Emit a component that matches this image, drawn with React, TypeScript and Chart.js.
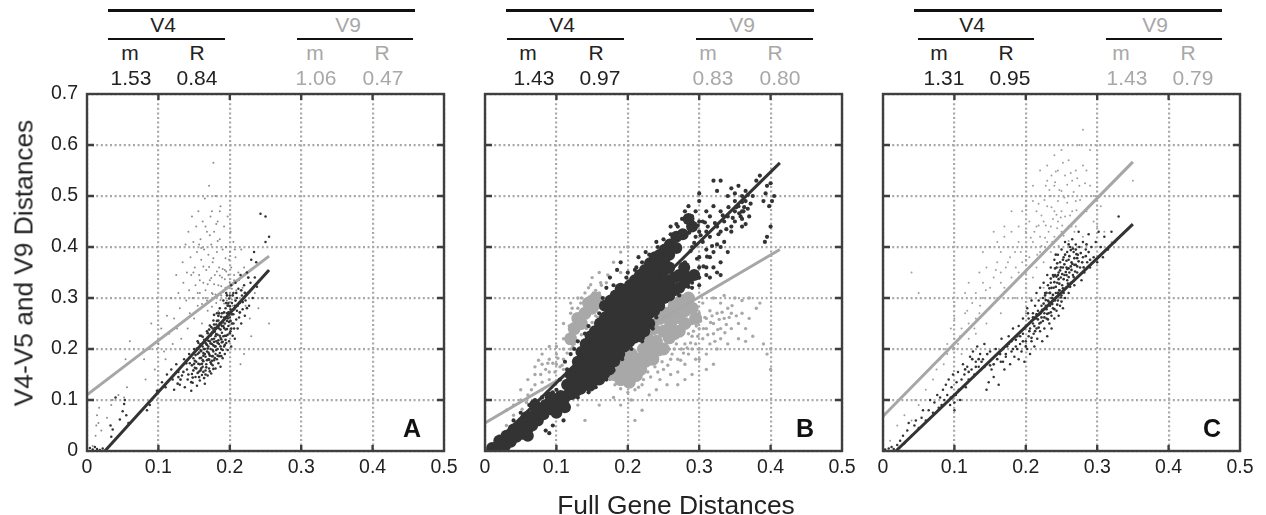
import React, { useEffect, useRef } from "react";
import { Chart, registerables } from "chart.js";

Chart.register(...registerables);

type P = [number, number];

const xTicks = [0, 0.1, 0.2, 0.3, 0.4, 0.5];
const yTicks = [0, 0.1, 0.2, 0.3, 0.4, 0.5, 0.6, 0.7];

const aStatsV4 = ["1.53", "0.84"];
const aStatsV9 = ["1.06", "0.47"];
const bStatsV4 = ["1.43", "0.97"];
const bStatsV9 = ["0.83", "0.80"];
const cStatsV4 = ["1.31", "0.95"];
const cStatsV9 = ["1.43", "0.79"];

const aLineV4: P[] = [[0.025, 0], [0.255, 0.355]];
const aLineV9: P[] = [[0, 0.11], [0.255, 0.382]];
const bLineV4: P[] = [[0, -0.004], [0.413, 0.565]];
const bLineV9: P[] = [[0, 0.055], [0.413, 0.395]];
const cLineV4: P[] = [[0.018, 0], [0.35, 0.445]];
const cLineV9: P[] = [[0, 0.068], [0.35, 0.567]];

const aV4: P[] = [
[.004,.006],[.008,.003],[.011,.008],[.014,.004],[.018,.002],[.022,.005],[.034,.028],[.033,.05],[.036,.042],[.046,.062],[.05,.078],[.052,.092],[.055,.07],[.053,.1],[.04,.105],[.058,.055],[.088,.09],[.09,.1],[.098,.118],[.084,.08],
[.105,.135],[.11,.125],[.112,.15],[.118,.16],[.12,.14],[.122,.12],[.125,.17],[.128,.155],[.13,.13],[.133,.148],[.136,.18],[.137,.125],[.14,.16],[.141,.14],[.143,.19],[.144,.172],[.146,.118],[.147,.151],[.148,.134],[.149,.182],[.15,.2],[.151,.163],[.152,.145],[.153,.175],[.154,.128],[.155,.19],[.156,.212],[.157,.156],[.158,.17],[.158,.138],[.159,.198],[.16,.183],[.16,.226],[.161,.149],[.162,.205],[.162,.165],[.163,.192],[.163,.176],[.164,.218],[.165,.132],[.165,.2],[.166,.158],[.166,.185],[.167,.21],[.167,.17],[.168,.235],[.168,.195],[.169,.148],[.169,.222],[.17,.18],[.17,.205],[.171,.162],[.171,.19],[.172,.246],[.172,.215],[.173,.174],[.173,.2],[.174,.228],[.174,.152],[.175,.186],[.175,.21],[.176,.24],[.176,.168],[.177,.195],[.177,.256],[.178,.22],[.178,.178],[.179,.205],[.179,.234],[.18,.162],[.18,.19],[.181,.248],[.181,.215],[.182,.27],[.182,.18],[.183,.2],[.183,.228],[.184,.256],[.184,.172],[.185,.21],[.185,.24],[.186,.192],[.186,.28],[.187,.222],[.187,.165],[.188,.25],[.188,.2],[.189,.232],[.189,.27],[.19,.182],[.19,.214],[.191,.295],[.191,.245],[.192,.205],[.192,.262],[.193,.226],[.193,.19],[.194,.28],[.194,.238],[.195,.31],[.195,.212],[.196,.255],[.196,.27],[.197,.198],[.197,.228],[.198,.29],[.198,.245],[.199,.215],[.2,.262],[.2,.305],[.201,.235],[.201,.278],[.202,.205],[.202,.325],[.203,.25],[.203,.29],[.204,.226],[.205,.268],[.205,.31],[.206,.24],[.207,.285],[.207,.22],[.208,.33],[.209,.258],[.21,.3],[.21,.275],[.211,.24],[.212,.318],[.213,.262],[.214,.29],[.215,.345],[.216,.25],[.217,.305],[.218,.278],[.22,.325],[.221,.265],[.222,.295],[.224,.35],[.225,.31],[.227,.285],[.229,.33],[.23,.375],[.232,.3],[.234,.39],[.235,.34],[.238,.322],[.243,.465],[.25,.46],[.255,.42],[.25,.41],[.237,.37]
];

const aV4Dense: P[] = [
[.161,.171],[.178,.214],[.155,.153],[.187,.238],[.169,.201],[.192,.241],[.147,.168],[.183,.187],[.164,.143],[.199,.253],[.172,.187],[.158,.182],[.181,.229],[.166,.212],[.195,.226],[.176,.198],[.151,.177],[.189,.213],[.173,.226],[.186,.251],[.159,.209],[.2,.231],[.168,.178],[.182,.242],[.156,.171],[.194,.261],[.177,.207],[.163,.187],[.188,.186],[.171,.238],[.149,.158],[.184,.217],[.167,.164],[.198,.272],[.175,.219],[.16,.162],[.191,.225],[.179,.182],[.154,.201],[.201,.255],[.17,.216],[.185,.27],[.157,.145],[.193,.208],[.174,.171],[.162,.224],[.18,.205],[.196,.239],[.165,.19],[.178,.248],[.152,.188],[.188,.263],[.172,.156],[.203,.268],[.183,.212],[.168,.208],[.19,.253],[.159,.158],[.176,.232],[.197,.285],[.164,.2],[.186,.226],[.153,.162],[.181,.198],[.206,.278],[.17,.193],[.194,.218],[.177,.161],[.162,.178],[.189,.245],[.148,.144],[.173,.211],[.184,.265],[.157,.193],[.199,.299],[.179,.241],[.166,.15],[.192,.272],[.205,.25],[.175,.177],[.16,.196],[.187,.205],[.182,.255],[.15,.171],[.195,.29],[.169,.231],[.208,.295],[.174,.243],[.155,.215],[.19,.198],[.202,.24],[.178,.267],[.163,.155],[.197,.26],[.211,.285],[.185,.186],[.171,.179],[.204,.305],[.158,.226],[.193,.25],[.18,.225],[.146,.135],[.168,.22],[.2,.284],[.176,.186],[.209,.31],[.188,.219],[.142,.15],[.214,.272],[.183,.242],[.139,.172],[.216,.315],[.196,.305],[.135,.155],[.218,.292],[.131,.14],[.221,.31],[.127,.132],[.224,.28],[.128,.145],[.226,.34]
];

const aV9: P[] = [
[.008,.01],[.012,.03],[.013,.05],[.014,.07],[.016,.055],[.017,.085],[.02,.04],[.028,.065],[.034,.09],[.036,.1],[.044,.11],[.052,.105],[.056,.125],[.06,.215],[.054,.18],[.08,.18],[.082,.14],[.088,.2],[.09,.25],[.095,.16],[.1,.21],[.104,.24],[.108,.195],[.11,.18],[.112,.265],[.115,.23],[.118,.3],[.12,.21],[.122,.26],[.125,.345],[.126,.24],[.128,.31],[.13,.28],[.132,.22],[.134,.37],[.135,.33],[.136,.255],[.138,.405],[.139,.295],[.14,.35],[.141,.24],[.142,.43],[.143,.315],[.144,.27],[.145,.38],[.146,.345],[.147,.46],[.148,.3],[.149,.41],[.15,.26],[.151,.36],[.152,.325],[.153,.44],[.154,.39],[.155,.285],[.156,.47],[.157,.345],[.158,.31],[.159,.415],[.16,.375],[.161,.25],[.162,.45],[.163,.33],[.164,.395],[.165,.495],[.166,.3],[.167,.355],[.168,.43],[.169,.275],[.17,.385],[.171,.52],[.172,.335],[.173,.46],[.174,.405],[.175,.31],[.176,.37],[.177,.565],[.178,.43],[.179,.345],[.18,.5],[.181,.29],[.182,.39],[.183,.45],[.184,.325],[.185,.36],[.186,.415],[.187,.48],[.188,.305],[.189,.34],[.19,.395],[.191,.27],[.192,.44],[.193,.355],[.194,.32],[.195,.4],[.196,.295],[.197,.46],[.198,.345],[.199,.375],[.2,.31],[.201,.43],[.202,.36],[.204,.285],[.205,.41],[.206,.335],[.208,.38],[.21,.3],[.212,.35],[.214,.27],[.216,.395],[.218,.32],[.22,.36],[.222,.285],[.225,.34],[.228,.26],[.23,.225],[.235,.31],[.24,.28],[.245,.3],[.252,.3],[.255,.25],[.22,.19],[.215,.17],
[.176,.308],[.193,.337],[.161,.288],[.187,.296],[.203,.318],[.169,.327],[.182,.352],[.198,.288],[.175,.283],[.191,.312],[.158,.335],[.206,.345],[.184,.274],[.171,.361],[.195,.352],[.166,.315],[.2,.331],[.178,.327],[.188,.323],[.163,.362],[.209,.315],[.174,.339],[.192,.289],[.18,.307],[.155,.31],[.197,.322],[.186,.344],[.168,.295],[.203,.297],[.177,.378],[.213,.335],[.19,.357],[.16,.398],[.183,.412],[.172,.423],[.194,.378],[.149,.35],[.181,.445],[.166,.44],[.2,.39],[.186,.47],[.175,.47],[.157,.405],[.207,.395]
];

const bV4Core: P[] = [
[.01,.006],[.018,.004],[.02,.02],[.028,.01],[.03,.03],[.036,.018],[.04,.042],[.044,.028],[.05,.05],[.052,.034],[.058,.066],[.06,.044],[.066,.05],[.068,.07],[.074,.06],[.076,.08],[.082,.072],[.07,.09],[.085,.09],[.092,.082],[.06,.03],
[.1,.075],[.098,.092],[.104,.09],[.106,.108],[.112,.086],[.11,.1],[.116,.11],[.092,.105],[.115,.13],[.122,.112],[.121,.13],[.12,.15],[.128,.118],[.127,.136],[.127,.155],[.13,.175],
[.134,.122],[.134,.14],[.134,.158],[.135,.194],[.14,.13],[.14,.148],[.14,.166],[.141,.184],[.141,.21],[.147,.128],[.147,.146],[.147,.164],[.147,.182],[.147,.2],[.148,.225],[.153,.138],[.153,.156],[.153,.174],[.153,.192],[.154,.21],[.154,.235],
[.16,.14],[.16,.158],[.16,.176],[.16,.194],[.16,.212],[.161,.23],[.161,.25],[.167,.152],[.167,.17],[.167,.188],[.167,.206],[.167,.224],[.167,.242],[.168,.262],[.168,.285],
[.174,.16],[.174,.178],[.174,.196],[.174,.214],[.174,.232],[.174,.25],[.175,.27],[.176,.295],[.181,.176],[.181,.194],[.181,.212],[.181,.23],[.181,.248],[.181,.266],[.182,.286],[.183,.305],
[.188,.19],[.188,.208],[.188,.226],[.188,.244],[.188,.262],[.188,.28],[.188,.3],[.19,.318],[.195,.205],[.195,.223],[.195,.241],[.195,.259],[.195,.277],[.195,.295],[.196,.315],
[.202,.214],[.202,.232],[.202,.25],[.202,.268],[.202,.286],[.202,.304],[.203,.325],[.209,.222],[.209,.24],[.209,.258],[.209,.276],[.209,.294],[.209,.312],[.21,.335],
[.216,.225],[.216,.245],[.216,.263],[.216,.281],[.216,.299],[.216,.317],[.217,.345],[.223,.235],[.223,.255],[.223,.273],[.223,.291],[.223,.309],[.223,.327],[.224,.355],
[.23,.25],[.23,.27],[.23,.288],[.23,.306],[.23,.324],[.23,.342],[.231,.368],[.237,.275],[.237,.295],[.237,.313],[.237,.331],[.237,.349],[.238,.38],[.237,.365],
[.244,.285],[.244,.305],[.244,.323],[.244,.341],[.244,.359],[.245,.385],[.251,.3],[.251,.32],[.251,.338],[.251,.356],[.251,.374],[.252,.395],[.258,.305],[.258,.328],[.258,.36],[.258,.385],[.259,.405],
[.265,.315],[.265,.34],[.268,.398],[.268,.42],[.272,.32],[.272,.345],[.277,.425],[.279,.33],[.279,.36],[.285,.34],[.293,.345],[.29,.44],[.285,.455]
];

const bV4Spread: P[] = [
[.11,.06],[.09,.035],[.085,.04],[.095,.05],[.1,.12],[.115,.16],[.112,.175],[.12,.19],[.13,.215],[.145,.245],[.16,.27],[.165,.3],[.17,.32],[.18,.325],[.175,.34],[.185,.355],[.19,.37],[.2,.35],[.212,.36],[.215,.38],[.22,.37],[.225,.39],
[.24,.41],[.26,.425],[.27,.44],[.28,.47],[.285,.48],[.29,.46],[.295,.47],[.3,.49],[.3,.505],[.305,.45],[.31,.47],[.312,.44],[.315,.46],[.32,.48],[.325,.44],[.33,.43],[.33,.47],[.335,.45],[.34,.5],[.34,.46],[.345,.515],[.345,.43],[.35,.49],[.35,.47],[.355,.52],[.355,.48],[.36,.5],[.36,.455],[.362,.47],[.365,.49],[.365,.51],[.368,.475],[.37,.46],[.372,.485],[.375,.5],[.38,.53],[.385,.54],[.39,.49],[.393,.505],[.395,.52],[.398,.48],[.4,.525],[.405,.5],[.402,.49],[.4,.44],[.392,.41],[.395,.42],[.29,.4],[.3,.38],[.31,.395],[.315,.42],[.32,.36],[.325,.405],[.33,.37],[.335,.41],[.34,.39],[.345,.44],[.3,.36],[.31,.36],[.28,.37],[.295,.42],[.32,.39],[.305,.41],[.315,.38],[.33,.53],[.32,.53],[.325,.51],[.36,.44],[.36,.47],[.31,.345],[.3,.34],[.3,.325],[.29,.32],[.29,.33],[.315,.34],[.325,.35],[.33,.345],[.3,.43],[.3,.45],[.31,.43],[.33,.4],[.35,.45],[.358,.46],[.365,.445],
[.283,.352],[.297,.377],[.288,.392],[.306,.362],[.293,.408],[.302,.423],[.311,.381],[.286,.428],[.298,.442],[.308,.448],[.318,.402],[.327,.425],[.322,.447],[.338,.435],[.347,.457],[.352,.478],[.36,.488],[.356,.466],[.363,.478],[.368,.502],[.35,.505],[.341,.478],[.333,.462],[.276,.455],[.268,.445],[.26,.44],[.25,.415],[.242,.4],[.23,.385],[.21,.355],[.198,.34],[.14,.23],[.125,.2],[.105,.14],[.095,.115],[.08,.105],[.07,.1],[.062,.09],[.05,.075],[.04,.06],[.13,.105],[.145,.115],[.155,.125],[.17,.14],[.18,.158],[.192,.18],[.205,.2],[.22,.215],[.235,.24],[.24,.262],[.262,.3],[.272,.305],[.285,.322]
];

const bV9Core: P[] = [
[.17,.2],[.175,.17],[.18,.15],[.186,.165],[.19,.14],[.195,.175],[.198,.155],[.202,.135],[.205,.19],[.208,.168],[.212,.148],[.215,.18],[.218,.16],[.222,.2],[.225,.176],[.228,.22],[.232,.198],[.236,.24],[.24,.215],[.245,.26],[.25,.235],[.255,.27],[.26,.25],[.265,.285],[.27,.262],[.275,.295],[.28,.275],[.285,.3],[.235,.18],[.25,.2],[.265,.23],[.28,.25],
[.13,.26],[.14,.27],[.15,.28],[.125,.24],[.145,.29],[.16,.29],[.29,.28],[.295,.26],[.272,.235],[.258,.222],[.243,.198],[.21,.15],[.2,.148],[.12,.22],[.135,.25],[.155,.3]
];

const bV9Spread: P[] = [
[.02,.03],[.03,.05],[.03,.08],[.04,.07],[.04,.09],[.05,.1],[.05,.12],[.06,.11],[.06,.14],[.07,.1],[.07,.13],[.07,.15],[.08,.12],[.08,.135],[.08,.17],[.08,.19],[.09,.14],[.09,.155],[.09,.18],[.09,.205],[.1,.17],[.1,.19],[.1,.205],[.11,.16],[.11,.18],[.11,.2],[.11,.22],[.11,.25],[.12,.2],[.12,.225],[.12,.27],[.12,.29],[.125,.21],[.13,.235],[.13,.28],[.13,.3],[.14,.25],[.14,.31],[.145,.32],[.15,.3],[.15,.34],[.155,.265],[.16,.31],[.16,.35],[.17,.33],[.18,.37],[.19,.35],[.19,.39],[.2,.4],[.14,.06],[.13,.09],[.16,.09],[.18,.105],[.19,.09],[.2,.115],[.205,.1],[.21,.12],[.22,.13],[.23,.11],[.24,.12],[.245,.14],[.25,.16],[.255,.13],[.26,.15],[.26,.18],[.265,.2],[.27,.155],[.27,.18],[.275,.2],[.28,.17],[.28,.21],[.285,.19],[.285,.23],[.29,.2],[.29,.225],[.29,.25],[.295,.18],[.295,.21],[.3,.2],[.3,.24],[.3,.27],[.305,.22],[.305,.29],[.31,.19],[.31,.24],[.31,.26],[.315,.21],[.315,.275],[.32,.23],[.32,.25],[.32,.3],[.325,.2],[.325,.27],[.33,.22],[.33,.24],[.33,.29],[.335,.26],[.335,.305],[.34,.21],[.34,.28],[.345,.24],[.345,.27],[.35,.3],[.355,.22],[.355,.25],[.36,.27],[.36,.295],[.365,.215],[.365,.24],[.37,.26],[.37,.3],[.375,.225],[.38,.28],[.385,.29],[.39,.21],[.395,.19],[.4,.2],[.4,.16],[.22,.08],[.21,.06],[.3,.18],[.31,.16],[.32,.17],[.28,.14],[.29,.15],[.27,.13],
[.07,.165],[.075,.178],[.085,.16],[.095,.172],[.102,.182],[.108,.168],[.115,.192],[.123,.205],[.128,.217],[.135,.228],[.142,.24],[.15,.252],[.158,.262],[.118,.245],[.127,.258],[.137,.27],[.146,.302],[.155,.315],[.163,.325],[.172,.345],[.122,.28],[.134,.29],[.143,.278],[.152,.31],[.162,.33],[.135,.3],[.148,.326],[.256,.168],[.262,.19],[.268,.21],[.274,.178],[.278,.192],[.283,.202],[.288,.212],[.292,.235],[.296,.245],[.298,.225],[.302,.255],[.306,.24],[.308,.262],[.312,.228],[.316,.252],[.318,.265],[.322,.215],[.326,.238],[.328,.258],[.332,.272],[.336,.232],[.338,.248],[.342,.262],[.346,.285],[.352,.265],[.248,.175],[.242,.155],[.238,.165],[.232,.145],[.228,.155],[.222,.14],[.215,.125],[.2,.13],[.19,.122],[.182,.13],[.175,.14],[.168,.15],[.052,.082],[.058,.095],[.065,.12],[.078,.15],[.088,.172],[.098,.155],[.105,.165]
];

const cV4: P[] = [
[.003,.003],[.008,.005],[.012,.008],[.015,.004],[.02,.012],[.024,.02],[.028,.03],[.03,.015],[.034,.04],[.036,.055],[.04,.03],[.044,.05],[.046,.06],[.05,.045],[.054,.065],[.056,.08],[.06,.06],[.064,.08],[.066,.1],[.07,.075],[.072,.095],[.076,.11],[.078,.085],[.08,.105],[.082,.09],[.084,.12],[.086,.1],[.088,.13],[.09,.11],[.092,.14],[.094,.09],[.095,.105],[.096,.125],[.098,.15],[.1,.08],[.1,.095],[.102,.11],[.103,.135],[.105,.155],[.106,.12],[.108,.1],[.11,.14],[.112,.17],[.114,.15],[.116,.125],[.118,.165],[.12,.14],[.122,.185],[.124,.16],[.126,.195],[.128,.15],[.13,.175],[.132,.205],[.134,.165],[.136,.19],[.14,.18],[.142,.21],[.145,.12],[.148,.135],[.15,.195],[.152,.16],[.155,.145],[.158,.2],[.16,.19],[.162,.13],[.165,.175],[.166,.22],[.168,.2],[.17,.16],[.172,.185],[.174,.205],[.176,.225],[.178,.17],[.18,.195],[.18,.215],[.182,.24],[.184,.185],[.186,.205],[.188,.225],[.19,.18],[.19,.245],[.192,.21],[.194,.195],[.196,.23],[.196,.26],[.198,.175],[.2,.215],[.2,.245],[.202,.2],[.202,.28],[.204,.225],[.204,.26],[.206,.19],[.206,.24],[.208,.295],[.208,.215],[.21,.27],[.21,.25],[.211,.23],[.212,.205],[.213,.285],[.214,.26],[.215,.31],[.215,.24],[.216,.22],[.217,.275],[.218,.295],[.219,.25],[.22,.32],[.22,.235],[.221,.27],[.222,.285],[.223,.215],[.224,.3],[.224,.255],[.225,.33],[.226,.27],[.226,.24],[.227,.31],[.228,.285],[.229,.26],[.23,.345],[.23,.225],[.231,.295],[.231,.325],[.232,.27],[.233,.25],[.233,.31],[.234,.285],[.235,.36],[.235,.33],[.236,.265],[.236,.24],[.237,.3],[.238,.345],[.238,.28],[.239,.32],[.24,.26],[.24,.375],[.241,.295],[.241,.345],[.242,.31],[.243,.275],[.243,.36],[.244,.33],[.245,.295],[.245,.385],[.246,.35],[.246,.265],[.247,.315],[.248,.37],[.248,.285],[.249,.34],[.25,.305],[.25,.395],[.251,.325],[.252,.36],[.252,.28],[.253,.38],[.254,.345],[.255,.3],[.255,.41],[.256,.32],[.257,.36],[.258,.39],[.258,.335],[.26,.31],[.26,.375],[.261,.35],[.262,.4],[.263,.33],[.264,.37],[.265,.415],[.266,.345],[.267,.39],[.268,.325],[.27,.365],[.27,.405],[.272,.35],[.273,.385],[.274,.43],[.276,.36],[.278,.335],[.28,.38],[.28,.41],[.282,.35],[.284,.395],[.286,.37],[.288,.425],[.29,.36],[.292,.4],[.295,.38],[.298,.41],[.3,.37],[.302,.43],[.305,.4],[.308,.38],[.31,.42],[.315,.395],[.32,.43],[.325,.41],[.33,.46]
];

const cV4Dense: P[] = [
[.232,.293],[.247,.328],[.221,.252],[.256,.351],[.238,.306],[.263,.362],[.229,.278],[.252,.319],[.243,.342],[.268,.378],[.235,.272],[.26,.341],[.226,.262],[.249,.301],[.271,.386],[.24,.331],[.257,.373],[.219,.268],[.244,.287],[.264,.355],[.233,.319],[.251,.347],[.274,.372],[.228,.296],[.246,.337],[.259,.328],[.237,.288],[.266,.397],[.223,.277],[.254,.366],[.242,.322],[.269,.352],[.231,.258],[.248,.354],[.277,.388],[.236,.3],[.261,.382],[.225,.289],[.253,.337],[.245,.31],[.272,.362],[.239,.342],[.258,.357],[.217,.258],[.267,.341],[.234,.31],[.25,.293],[.279,.37],[.243,.302],[.263,.394],[.227,.305],[.255,.385],[.241,.358],[.27,.395],[.23,.269],[.247,.315],[.26,.358],[.218,.242],[.245,.345],[.275,.4],[.236,.32],[.265,.367],[.222,.262],[.253,.31],[.284,.382],[.24,.278],[.257,.345],[.212,.245],[.249,.36],[.268,.365],[.229,.31],[.244,.368],[.262,.322],[.205,.235],[.235,.338],[.281,.36],[.252,.375],[.215,.268],[.26,.405],[.208,.222],[.242,.385],[.288,.39],[.2,.205],[.272,.378],[.196,.215],[.21,.262],[.285,.405],[.192,.225],[.213,.235],[.29,.375],[.188,.2],[.203,.27],[.186,.218],[.198,.24],[.182,.2],[.176,.21],[.172,.19],[.168,.175],[.164,.19],[.16,.18],[.155,.17],[.15,.168],[.146,.19],[.142,.165],[.138,.175],[.134,.18],[.13,.165],[.125,.18],[.12,.155],[.115,.16]
];

const cV9: P[] = [
[.01,.02],[.02,.05],[.03,.07],[.04,.06],[.045,.1],[.05,.09],[.06,.12],[.07,.14],[.075,.16],[.08,.18],[.08,.2],[.085,.17],[.09,.21],[.09,.19],[.04,.35],[.05,.31],[.095,.24],[.1,.2],[.1,.22],[.1,.26],[.1,.285],[.105,.21],[.11,.24],[.11,.19],[.115,.27],[.115,.31],[.12,.22],[.12,.25],[.12,.33],[.125,.29],[.13,.23],[.13,.26],[.13,.31],[.135,.35],[.135,.27],[.14,.3],[.14,.33],[.14,.39],[.145,.25],[.145,.36],[.15,.28],[.15,.32],[.15,.4],[.155,.34],[.155,.43],[.16,.3],[.16,.37],[.16,.41],[.165,.27],[.165,.35],[.165,.39],[.17,.42],[.17,.32],[.17,.44],[.175,.37],[.175,.4],[.18,.34],[.18,.43],[.18,.47],[.185,.39],[.185,.3],[.19,.41],[.19,.35],[.19,.44],[.195,.37],[.195,.5],[.195,.47],[.2,.27],[.2,.32],[.2,.4],[.2,.43],[.2,.35],[.2,.48],[.205,.3],[.205,.38],[.205,.45],[.21,.41],[.21,.34],[.21,.49],[.21,.52],[.215,.36],[.215,.44],[.215,.47],[.22,.39],[.22,.5],[.22,.42],[.22,.55],[.225,.45],[.225,.32],[.225,.37],[.23,.48],[.23,.41],[.23,.53],[.23,.56],[.235,.44],[.235,.5],[.235,.39],[.24,.47],[.24,.42],[.24,.52],[.24,.58],[.245,.45],[.245,.55],[.245,.36],[.245,.49],[.25,.43],[.25,.51],[.25,.47],[.25,.59],[.255,.46],[.255,.54],[.255,.41],[.26,.5],[.26,.57],[.26,.44],[.265,.47],[.265,.53],[.265,.4],[.27,.55],[.27,.49],[.27,.44],[.275,.52],[.275,.6],[.275,.46],[.28,.56],[.28,.42],[.28,.63],[.285,.5],[.285,.55],[.285,.47],[.29,.59],[.29,.52],[.295,.45],[.295,.5],[.3,.44],[.305,.48],[.31,.43],[.32,.41],[.35,.53],
[.228,.442],[.243,.463],[.236,.478],[.251,.442],[.222,.462],[.258,.487],[.247,.512],[.232,.43],[.262,.462],[.238,.455],[.254,.497],[.226,.492],[.267,.508],[.241,.527],[.249,.458],[.218,.442],[.258,.522],[.233,.512],[.271,.472],[.244,.437],[.264,.44],[.227,.418],[.253,.422],[.237,.41],[.276,.492],[.246,.402],[.212,.43],[.26,.412],[.222,.402],[.268,.43],[.216,.385],[.207,.418],[.2,.375],[.193,.39],[.186,.36],[.178,.38],[.172,.36],[.165,.33],[.158,.355],[.15,.3],[.144,.315],[.136,.285],[.128,.24],[.118,.275],[.108,.225],[.098,.205],[.088,.2],[.242,.548],[.252,.565],[.263,.545],[.272,.535],[.283,.525],[.236,.54],[.228,.52],[.218,.485]
];

const toPts = (pairs: P[]) => pairs.map(([x, y]) => ({ x, y }));

const framePlugin = {
  id: "frame",
  afterDatasetsDraw(chart: any) {
    const { ctx, chartArea: a, scales } = chart;
    ctx.save();
    ctx.strokeStyle = "#3f3f3f";
    ctx.lineWidth = 2.4;
    for (const t of xTicks.slice(1, -1)) {
      const px = scales.x.getPixelForValue(t);
      ctx.beginPath();
      ctx.moveTo(px, a.top); ctx.lineTo(px, a.top + 6);
      ctx.moveTo(px, a.bottom); ctx.lineTo(px, a.bottom - 6);
      ctx.stroke();
    }
    for (const t of yTicks.slice(1, -1)) {
      const py = scales.y.getPixelForValue(t);
      ctx.beginPath();
      ctx.moveTo(a.left, py); ctx.lineTo(a.left + 7, py);
      ctx.moveTo(a.right, py); ctx.lineTo(a.right - 7, py);
      ctx.stroke();
    }
    ctx.strokeRect(a.left, a.top, a.right - a.left, a.bottom - a.top);
    ctx.restore();
  },
};

type SeriesDef = { pts: P[]; color: string; r: number };

const PAD_L = 52, PAD_T = 14, PAD_R = 24, PAD_B = 36;
const PLOT_W = 357, PLOT_H = 357, PLOT_TOP = 94;

function Panel(props: { left: number; showY: boolean; v9: SeriesDef[]; v4: SeriesDef[]; lineV4: P[]; lineV9: P[] }) {
  const ref = useRef<HTMLCanvasElement>(null);
  useEffect(() => {
    const mkDots = (list: SeriesDef[], base: number) =>
      list.map((s, i) => ({
        data: toPts(s.pts),
        pointRadius: s.r,
        pointBorderWidth: 0,
        pointBackgroundColor: s.color,
        showLine: false,
        order: base - i,
      }));
    const mkLine = (p: P[], color: string, order: number) => ({
      data: toPts(p),
      showLine: true,
      borderColor: color,
      borderWidth: 3,
      pointRadius: 0,
      order,
    });
    const noPad = (s: any) => {
      s.paddingTop = 0; s.paddingBottom = 0; s.paddingLeft = 0; s.paddingRight = 0;
    };
    const chart = new Chart(ref.current!, {
      type: "scatter",
      data: {
        datasets: [
          ...mkDots(props.v9, 30),
          mkLine(props.lineV9, "#a6a6a6", 20),
          ...mkDots(props.v4, 15),
          mkLine(props.lineV4, "#333333", 5),
        ] as any,
      },
      options: {
        animation: false,
        responsive: false,
        layout: { padding: { left: 0, top: PAD_T, right: PAD_R, bottom: 0 } },
        plugins: { legend: { display: false }, tooltip: { enabled: false } },
        scales: {
          x: {
            type: "linear", min: 0, max: 0.5,
            afterBuildTicks: (s: any) => { s.ticks = xTicks.map((value) => ({ value })); },
            afterFit: (s: any) => { s.height = PAD_B; noPad(s); },
            ticks: {
              padding: 5, color: "#222", maxRotation: 0,
              font: { family: "Liberation Sans", size: 19.5 },
              callback: (v: any) => (v === 0 ? "0" : Number(v).toFixed(1)),
            },
            border: { display: false, dash: [2, 2.6] },
            grid: { color: "#a8a8a8", lineWidth: 2.2, drawTicks: false },
          } as any,
          y: {
            type: "linear", min: 0, max: 0.7,
            afterBuildTicks: (s: any) => { s.ticks = yTicks.map((value) => ({ value })); },
            afterFit: (s: any) => { s.width = PAD_L; noPad(s); },
            ticks: {
              display: props.showY, padding: 9, color: "#222",
              font: { family: "Liberation Sans", size: 19.5 },
              callback: (v: any) => (v === 0 ? "0" : Number(v).toFixed(1)),
            },
            border: { display: false, dash: [2, 2.6] },
            grid: { color: "#a8a8a8", lineWidth: 2.2, drawTicks: false },
          } as any,
        },
      },
      plugins: [framePlugin],
    } as any);
    return () => chart.destroy();
  }, []);
  return (
    <canvas
      ref={ref}
      width={PLOT_W + PAD_L + PAD_R}
      height={PLOT_H + PAD_T + PAD_B}
      style={{ position: "absolute", left: props.left - PAD_L, top: PLOT_TOP - PAD_T, display: "block" }}
    />
  );
}

const FONT = '"Liberation Sans", Arial, sans-serif';

function Txt(props: { x: number; y: number; size?: number; color?: string; bold?: boolean; children: any }) {
  return (
    <div
      style={{
        position: "absolute",
        left: props.x,
        top: props.y,
        transform: "translate(-50%,-50%)",
        font: `${props.bold ? "bold " : ""}${props.size ?? 21}px ${FONT}`,
        color: props.color ?? "#222",
        whiteSpace: "nowrap",
      }}
    >
      {props.children}
    </div>
  );
}

function Rule(props: { x1: number; x2: number; y: number; h: number }) {
  return <div style={{ position: "absolute", left: props.x1, width: props.x2 - props.x1, top: props.y, height: props.h, background: "#111" }} />;
}

const GRAY = "#a8a8a8";

function Header(p: {
  thick: [number, number]; v4Rule: [number, number]; v9Rule: [number, number];
  v4C: number; v9C: number; m4: number; r4: number; m9: number; r9: number;
  s4: string[]; s9: string[]; vm4: number; vr4: number; vm9: number; vr9: number;
}) {
  return (
    <>
      <Rule x1={p.thick[0]} x2={p.thick[1]} y={9} h={3} />
      <Txt x={p.v4C} y={25}>V4</Txt>
      <Txt x={p.v9C} y={25} color={GRAY}>V9</Txt>
      <Rule x1={p.v4Rule[0]} x2={p.v4Rule[1]} y={38} h={1.5} />
      <Rule x1={p.v9Rule[0]} x2={p.v9Rule[1]} y={38} h={1.5} />
      <Txt x={p.m4} y={53}>m</Txt>
      <Txt x={p.r4} y={53}>R</Txt>
      <Txt x={p.m9} y={53} color={GRAY}>m</Txt>
      <Txt x={p.r9} y={53} color={GRAY}>R</Txt>
      <Txt x={p.vm4} y={78}>{p.s4[0]}</Txt>
      <Txt x={p.vr4} y={78}>{p.s4[1]}</Txt>
      <Txt x={p.vm9} y={78} color={GRAY}>{p.s9[0]}</Txt>
      <Txt x={p.vr9} y={78} color={GRAY}>{p.s9[1]}</Txt>
    </>
  );
}

export default function App() {
  const DARK = "#333333";
  const LIGHT = "#a8a8a8";
  return (
    <div style={{ position: "absolute", left: 0, top: 0, width: 1266, height: 515, overflow: "hidden", background: "#fff" }}>
      <Panel left={87} showY lineV4={aLineV4} lineV9={aLineV9}
        v9={[{ pts: aV9, color: "#8c8c8c", r: 1 }]}
        v4={[{ pts: aV4, color: DARK, r: 1.25 }, { pts: aV4Dense, color: DARK, r: 1.35 }]} />
      <Panel left={484.5} showY={false} lineV4={bLineV4} lineV9={bLineV9}
        v9={[{ pts: bV9Spread, color: LIGHT, r: 1.7 }, { pts: bV9Core, color: LIGHT, r: 6.5 }]}
        v4={[{ pts: bV4Spread, color: DARK, r: 2.1 }, { pts: bV4Core, color: DARK, r: 6 }]} />
      <Panel left={882.5} showY={false} lineV4={cLineV4} lineV9={cLineV9}
        v9={[{ pts: cV9, color: "#a0a0a0", r: 1 }]}
        v4={[{ pts: cV4, color: DARK, r: 1.25 }, { pts: cV4Dense, color: DARK, r: 1.35 }]} />

      <Header thick={[108, 415]} v4Rule={[108, 225]} v9Rule={[297, 413]} v4C={163} v9C={348}
        m4={130} r4={197} m9={315} r9={382} vm4={131} vr4={197} vm9={316} vr9={383} s4={aStatsV4} s9={aStatsV9} />
      <Header thick={[506, 814]} v4Rule={[507, 624]} v9Rule={[696, 813]} v4C={562} v9C={742}
        m4={528} r4={596} m9={708} r9={775} vm4={534} vr4={600} vm9={713} vr9={780} s4={bStatsV4} s9={bStatsV9} />
      <Header thick={[914, 1222]} v4Rule={[918, 1034]} v9Rule={[1106, 1222]} v4C={972} v9C={1155}
        m4={939} r4={1006} m9={1121} r9={1188} vm4={944} vr4={1010} vm9={1127} vr9={1193} s4={cStatsV4} s9={cStatsV9} />

      <Txt x={412} y={428} size={25} bold color="#111">A</Txt>
      <Txt x={805} y={428} size={25} bold color="#111">B</Txt>
      <Txt x={1212} y={428} size={25} bold color="#111">C</Txt>

      <div style={{ position: "absolute", left: 24, top: 263, transform: "translate(-50%,-50%) rotate(-90deg)", font: `26.3px ${FONT}`, color: "#222", whiteSpace: "nowrap" }}>
        V4-V5 and V9 Distances
      </div>
      <Txt x={676} y={505} size={26.4}>Full Gene Distances</Txt>
    </div>
  );
}
